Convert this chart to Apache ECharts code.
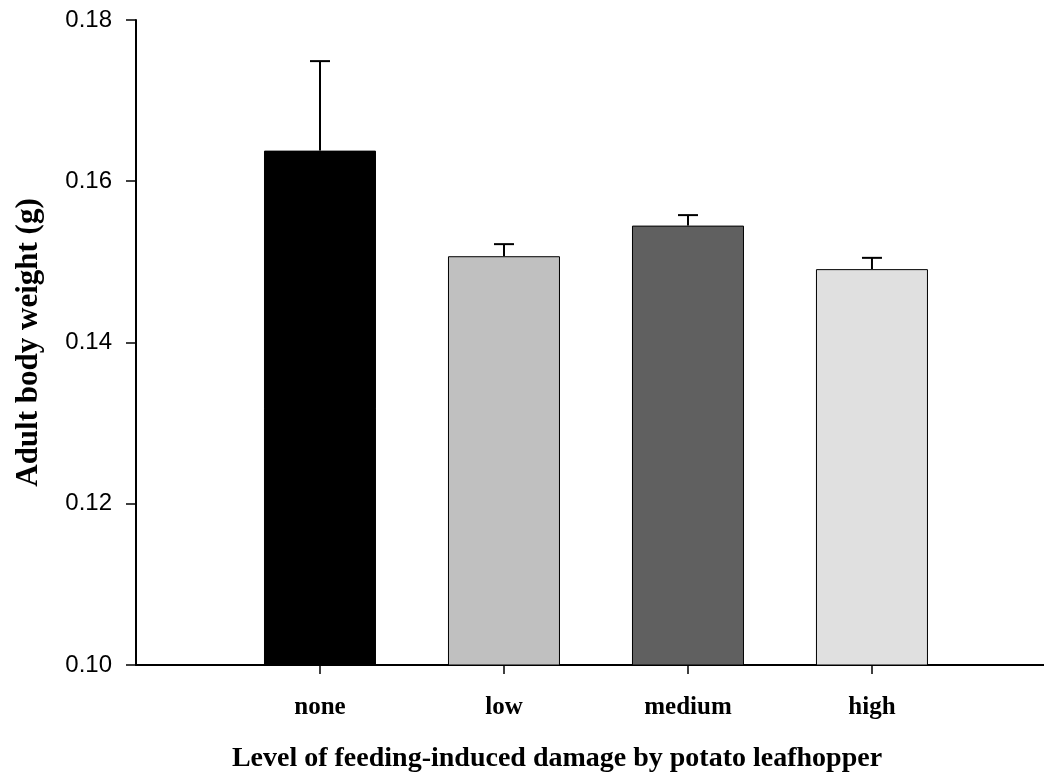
<!DOCTYPE html>
<html>
<head>
<meta charset="utf-8">
<script src="https://cdn.jsdelivr.net/npm/echarts@6/dist/echarts.min.js"></script>
<style>
  html, body { margin: 0; padding: 0; background: #fff; }
  #chart { width: 1044px; height: 777px; }
</style>
</head>
<body>
<div id="chart"></div>
<script>
// data
var categories = ["none", "low", "medium", "high"];
var positions = [1, 2, 3, 4];
var means = [0.1638, 0.1507, 0.1545, 0.1491];
var errors = [0.0111, 0.0015, 0.0013, 0.0014];
var barColors = ["#000000", "#c0c0c0", "#606060", "#e0e0e0"];
var yMin = 0.10, yMax = 0.18, yStep = 0.02;

var barData = [];
var errData = [];
for (var i = 0; i < categories.length; i++) {
  barData.push({ value: [positions[i], means[i]], itemStyle: { color: barColors[i] } });
  errData.push([positions[i], means[i], means[i] + errors[i]]);
}

var myChart = echarts.init(document.getElementById("chart"));
myChart.setOption({
  animation: false,
  grid: { left: 136, right: 0, top: 20, bottom: 112, containLabel: false },
  xAxis: {
    type: "value",
    min: 0,
    max: 4.935,
    interval: 1,
    splitLine: { show: false },
    axisLine: { show: true, onZero: false, lineStyle: { color: "#000", width: 2 } },
    axisTick: {
      show: true,
      customValues: positions,
      length: 9,
      lineStyle: { color: "#000", width: 1.5 }
    },
    axisLabel: {
      customValues: positions,
      margin: 30,
      fontFamily: "Liberation Serif",
      fontWeight: "bold",
      fontSize: 25,
      color: "#000",
      formatter: function (v) {
        var k = positions.indexOf(v);
        return k >= 0 ? categories[k] : "";
      }
    }
  },
  yAxis: {
    type: "value",
    min: yMin,
    max: yMax,
    interval: yStep,
    name: "Adult body weight (g)",
    nameLocation: "middle",
    nameGap: 92,
    nameTextStyle: {
      fontFamily: "Liberation Serif",
      fontWeight: "bold",
      fontSize: 31,
      color: "#000"
    },
    splitLine: { show: false },
    axisLine: { show: true, lineStyle: { color: "#000", width: 2 } },
    axisTick: { show: true, length: 10, lineStyle: { color: "#000", width: 1.5 } },
    axisLabel: {
      margin: 24,
      fontFamily: "Liberation Sans",
      fontSize: 24,
      color: "#000",
      formatter: function (v) { return v.toFixed(2); }
    }
  },
  graphic: [
    {
      type: "text",
      x: 557,
      y: 759,
      style: {
        text: "Level of feeding-induced damage by potato leafhopper",
        fontFamily: "Liberation Serif",
        fontWeight: "bold",
        fontSize: 28,
        fill: "#000",
        align: "center",
        verticalAlign: "middle"
      }
    }
  ],
  series: [
    {
      type: "bar",
      barWidth: 112,
      data: barData,
      itemStyle: { borderColor: "#000", borderWidth: 1 },
      z: 2
    },
    {
      type: "custom",
      data: errData,
      z: 1,
      renderItem: function (params, api) {
        var x = api.value(0);
        var base = api.coord([x, api.value(1)]);
        var top = api.coord([x, api.value(2)]);
        var half = 10;
        var style = { stroke: "#000", lineWidth: 2 };
        return {
          type: "group",
          children: [
            { type: "line", shape: { x1: base[0], y1: base[1], x2: top[0], y2: top[1] }, style: style },
            { type: "line", shape: { x1: top[0] - half, y1: top[1], x2: top[0] + half, y2: top[1] }, style: style }
          ]
        };
      }
    }
  ]
});
</script>
</body>
</html>
